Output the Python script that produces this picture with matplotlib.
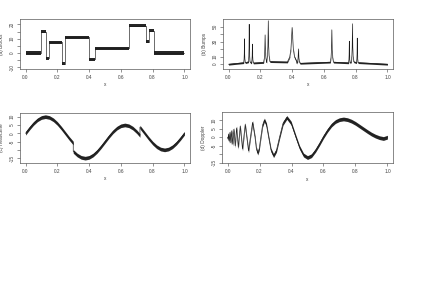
import matplotlib
matplotlib.use("Agg")
import matplotlib.pyplot as plt
import numpy as np

plt.rcParams['font.family'] = ['Liberation Sans', 'DejaVu Sans']

# (a) Blocks: jump points and the level held after each one
block_edges = [0.0, 0.10, 0.13, 0.15, 0.23, 0.25, 0.40, 0.44, 0.65, 0.76, 0.78, 0.81, 1.0]
block_levels = [0.0, 14.8, -3.7, 7.4, -7.4, 11.1, -4.4, 3.3, 19.2, 7.8, 15.5, 0.0]

# (b) Bumps: centre, peak height, half width
bump_pos = [0.10, 0.13, 0.15, 0.23, 0.25, 0.40, 0.44, 0.65, 0.76, 0.78, 0.81]
bump_height = [33.7, 53.0, 26.7, 39.0, 57.7, 48.8, 20.4, 45.7, 30.6, 53.7, 34.7]
bump_width = [0.005, 0.005, 0.006, 0.01, 0.01, 0.03, 0.01, 0.01, 0.005, 0.008, 0.005]

# (c) HeaviSine (jumps at 0.30 and 0.72)
hs_x = [0.0, 0.025, 0.05, 0.075, 0.1, 0.125, 0.15, 0.175, 0.2, 0.225, 0.25, 0.275,
        0.3, 0.3, 0.325, 0.35, 0.375, 0.4, 0.425, 0.45, 0.475, 0.5, 0.525, 0.55,
        0.575, 0.6, 0.625, 0.65, 0.675, 0.7, 0.72, 0.72, 0.75, 0.775, 0.8, 0.825,
        0.85, 0.875, 0.9, 0.925, 0.95, 0.975, 1.0]
hs_y = [0.0, 3.1, 5.9, 8.1, 9.5, 10.0, 9.5, 8.1, 5.9, 3.1, 0.0, -3.1,
        -5.9, -10.9, -13.1, -14.5, -15.0, -14.5, -13.1, -10.9, -8.1, -5.0, -1.9, 0.9,
        3.1, 4.5, 5.0, 4.5, 3.1, 0.9, -1.3, 3.7, 0.0, -3.1, -5.9, -8.1,
        -9.5, -10.0, -9.5, -8.1, -5.9, -3.1, 0.0]

# (d) Doppler: turning points / crossings, then a coarser read of the slow part
dop_x = [0.0, 0.0022, 0.0041, 0.0061, 0.0082, 0.0103, 0.0126, 0.015, 0.0175, 0.0201,
         0.0229, 0.0258, 0.0289, 0.0321, 0.0356, 0.0392, 0.0431, 0.0473, 0.0517, 0.0564,
         0.0614, 0.0669, 0.0727, 0.079, 0.0858, 0.0933, 0.1014, 0.1102, 0.12, 0.1308,
         0.1428, 0.1562, 0.1713, 0.1795, 0.1883, 0.1978, 0.2079, 0.2187, 0.2304, 0.243,
         0.2567, 0.2715, 0.2877, 0.3055, 0.325, 0.3466, 0.3706, 0.3974, 0.4275, 0.45,
         0.475, 0.5, 0.525, 0.55, 0.575, 0.6, 0.625, 0.65, 0.675, 0.7,
         0.725, 0.75, 0.775, 0.8, 0.825, 0.85, 0.875, 0.9, 0.925, 0.95,
         0.975, 1.0]
dop_y = [0.0, -1.1, 0.0, 1.9, 0.0, -2.4, 0.0, 2.9, 0.0, -3.4,
         0.0, 3.8, 0.0, -4.2, 0.0, 4.7, 0.0, -5.1, 0.0, 5.5,
         0.0, -6.0, 0.0, 6.5, 0.0, -7.0, 0.0, 7.5, 0.0, -8.1,
         0.0, 8.7, 0.0, -6.5, -9.4, -6.8, 0.0, 7.0, 10.1, 7.3,
         0.0, -7.6, -10.9, -7.8, 0.0, 8.1, 11.6, 8.3, 0.0, -6.0,
         -10.5, -12.0, -10.9, -7.8, -3.9, 0.3, 4.0, 7.1, 9.2, 10.3,
         10.7, 10.3, 9.4, 8.1, 6.5, 4.9, 3.3, 1.8, 0.6, -0.3,
         -0.8, 0.0]

noise = 1.1          # half height of the noisy band
ink = '0.1'

W, H = 421, 298
fig = plt.figure(figsize=(W / 100, H / 100), dpi=100)


def panel(left, top, right, bottom):
    return fig.add_axes([left / W, 1 - bottom / H, (right - left) / W, (bottom - top) / H])


def style(ax, ylabel, yticks, ylabels, ylim):
    ax.set_xlim(-0.035, 1.035)
    ax.set_ylim(*ylim)
    ax.set_xticks([0, 0.2, 0.4, 0.6, 0.8, 1.0])
    ax.set_xticklabels(['0.0', '0.2', '0.4', '0.6', '0.8', '1.0'])
    ax.set_yticks(yticks)
    ax.set_yticklabels(ylabels, rotation=90, va='center')
    ax.tick_params(length=2.2, width=0.4, labelsize=3.4, pad=1.8, colors='0.25')
    for s in ax.spines.values():
        s.set_linewidth(0.5)
        s.set_color('0.35')
    ax.set_xlabel('x', fontsize=3.4, color='0.25')
    ax.set_ylabel(ylabel, fontsize=3.4, color='0.25')
    ax.xaxis.set_label_coords(0.5, -0.27)
    ax.yaxis.set_label_coords(-0.095, 0.5)


def noisy(ax, x, y, **kw):
    y = np.asarray(y)
    ax.plot(x, y, color=ink, lw=0.45, drawstyle=kw.get('drawstyle', 'default'))
    ax.fill_between(x, y - noise, y + noise, color='0.15', lw=0, step=kw.get('step'))


# (a) Blocks
ax = panel(20, 19, 190, 69)
lv = block_levels + [block_levels[-1]]
noisy(ax, block_edges, lv, drawstyle='steps-post', step='post')
style(ax, '(a) Blocks', [-10, -5, 0, 5, 10, 15, 20],
      ['-10', '', '0', '', '10', '', '20'], (-11.2, 23.8))

# (b) Bumps
shape_u = [-1, -0.5, -0.25, 0, 0.25, 0.5, 1]
shape_f = [0.06, 0.2, 0.41, 1, 0.41, 0.2, 0.06]
bx, by = [0.0], [0.0]
for c, h, w in zip(bump_pos, bump_height, bump_width):
    bx += [c + u * w for u in shape_u]
    by += [h * f for f in shape_f]
bx.append(1.0)
by.append(0.0)
ax = panel(223, 19, 393, 69)
noisy(ax, bx, by)
style(ax, '(b) Bumps', [0, 10, 20, 30, 40, 50],
      ['0', '10', '', '30', '', '50'], (-6.3, 60))

# (c) HeaviSine
ax = panel(20, 113, 190, 163)
noisy(ax, hs_x, hs_y)
style(ax, '(c) HeaviSine', [-15, -10, -5, 0, 5, 10],
      ['-15', '', '-5', '0', '5', '10'], (-17.9, 12.2))

# (d) Doppler
ax = panel(222, 112, 393, 163)
noisy(ax, dop_x, dop_y)
style(ax, '(d) Doppler', [-15, -10, -5, 0, 5, 10],
      ['-15', '', '-5', '0', '5', '10'], (-15.2, 14.8))

fig.savefig('out.png', dpi=100)
